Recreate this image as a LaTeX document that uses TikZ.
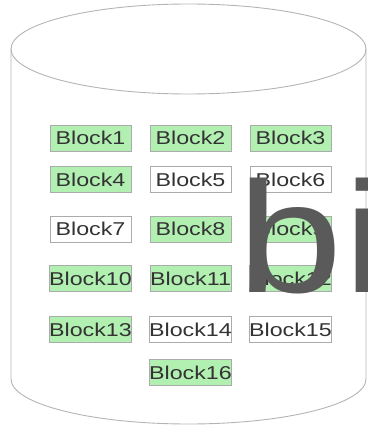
\documentclass[tikz,border=0pt]{standalone}
\usepackage{graphicx}
\usepackage{fontspec}
\setmainfont{Liberation Sans}
\definecolor{cylgray}{HTML}{B4B4B4}
\definecolor{blkgreen}{HTML}{B2F0B2}
\definecolor{blkborder}{HTML}{ABABAB}
\definecolor{txtgray}{HTML}{333333}
\definecolor{bigray}{HTML}{5A5A5A}
\newcommand\bt[1]{\scalebox{1.25}[1]{#1}}
\tikzset{
  cyl/.style={draw=cylgray, line width=0.9pt},
  blk/.style={draw=blkborder, line width=0.8pt, minimum width=81pt, minimum height=26pt,
    inner sep=0pt, text=txtgray, font=\fontsize{18.6}{20}\selectfont},
  onblk/.style={blk, fill=blkgreen},
  offblk/.style={blk, fill=white},
}
\begin{document}
\begin{tikzpicture}[x=1pt,y=-1pt]
\useasboundingbox (0,0) rectangle (367,425);
% cylinder
\draw[cyl] (188.5,49) ellipse [x radius=177.5, y radius=45];
\draw[cyl] (11,49) -- (11,379) arc[start angle=180, end angle=0, x radius=177.5, y radius=45] -- (366,49);
% blocks
\node[onblk]  (b1)  at (90.5,138)   {\bt{Block1}};
\node[onblk]  (b2)  at (190.5,138)  {\bt{Block2}};
\node[onblk]  (b3)  at (290.5,138)  {\bt{Block3}};
\node[onblk]  (b4)  at (90.5,179.5) {\bt{Block4}};
\node[offblk] (b5)  at (190.5,179.5){\bt{Block5}};
\node[offblk] (b6)  at (290.5,179.5){\bt{Block6}};
\node[offblk] (b7)  at (90.5,229)   {\bt{Block7}};
\node[onblk]  (b8)  at (190.5,229)  {\bt{Block8}};
\node[onblk]  (b9)  at (290.5,229)  {\bt{Block9}};
\node[onblk]  (b10) at (90.5,278.7) {\bt{Block10}};
\node[onblk]  (b11) at (190.5,278.7){\bt{Block11}};
\node[onblk]  (b12) at (290.5,278.7){\bt{Block12}};
\node[onblk]  (b13) at (90.5,329.7) {\bt{Block13}};
\node[offblk] (b14) at (190.5,329.7){\bt{Block14}};
\node[offblk] (b15) at (290.5,329.7){\bt{Block15}};
\node[onblk]  (b16) at (190.5,372.5){\bt{Block16}};
% big text
\node[anchor=base west, inner sep=0pt, text=bigray, font=\fontsize{158}{160}\selectfont] (bi) at (237.7,292) {\scalebox{1.2}[1]{bi}};
\end{tikzpicture}
\end{document}
